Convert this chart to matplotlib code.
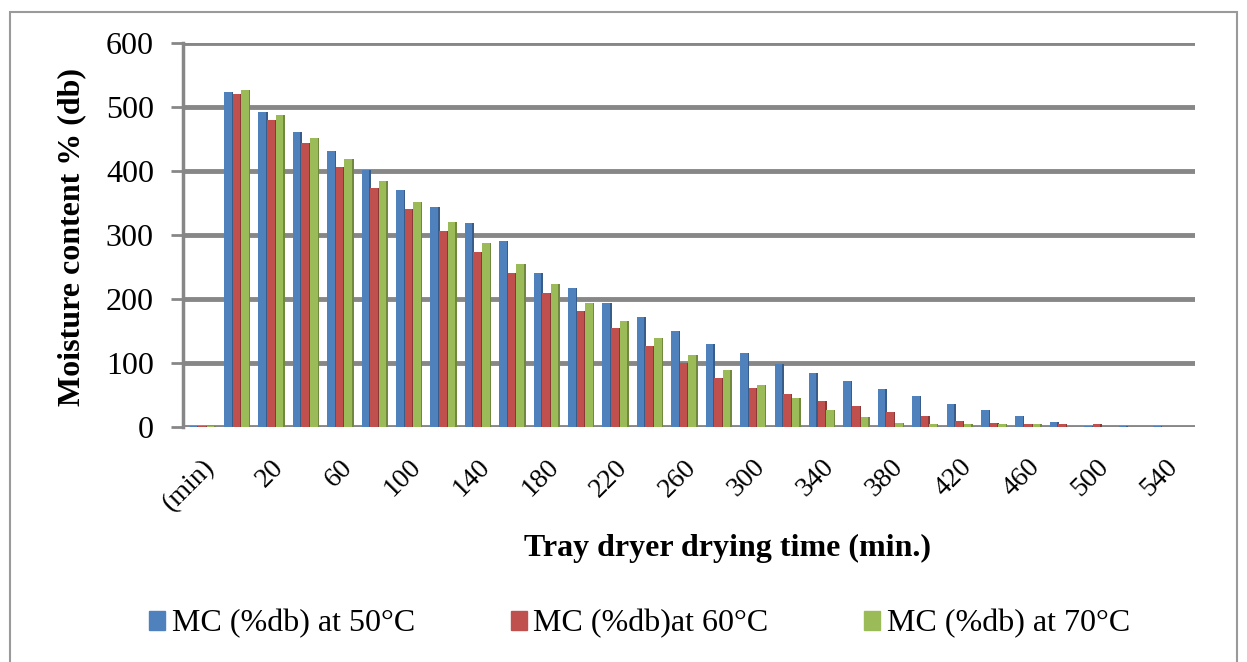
import matplotlib.pyplot as plt
import matplotlib.patches as mpatches
import numpy as np

plt.rcParams['font.family'] = ['Liberation Serif', 'DejaVu Serif']

# categories: "(min)" then 0..540 every 20 min
times = ['(min)'] + [str(t) for t in range(0, 541, 20)]
mc50 = [1, 523, 492, 461, 431, 401, 371, 344, 318, 291, 241, 217, 194, 172, 150,
        129, 115, 98, 85, 72, 60, 48, 36, 26, 17, 8, 2, 2, 1]
mc60 = [1, 521, 480, 443, 407, 373, 340, 307, 274, 241, 210, 182, 154, 127, 100,
        77, 61, 51, 41, 33, 24, 17, 9, 6, 5, 5, 4, 0, 0]
mc70 = [1, 526, 488, 452, 418, 385, 352, 320, 288, 255, 223, 194, 165, 139, 113,
        89, 65, 46, 26, 15, 7, 5, 4, 4, 4, 0, 0, 0, 0]
labels = ['MC (%db) at 50°C', 'MC (%db)at 60°C', 'MC (%db) at 70°C']
colors = ['#4F81BD', '#C0504D', '#9BBB59']
dark = ['#385D8A', '#8C3836', '#71893F']

fig = plt.figure(figsize=(12.47, 6.62), dpi=100)
ax = fig.add_axes([0.1468, 0.355, 0.8112, 0.58])

x = np.arange(len(times))
w = 0.22
offs = [-0.25, 0, 0.25]
for vals, off, c, d in zip([mc50, mc60, mc70], offs, colors, dark):
    # darker side face for a little 3D look
    ax.bar(x + off + w / 2 + 0.02, vals, width=0.05, color=d, zorder=2)
    ax.bar(x + off, vals, width=w, color=c, zorder=3)

ax.set_ylim(0, 600)
ax.set_xlim(-0.55, 28.85)
ax.set_yticks(range(0, 601, 100))
ax.yaxis.grid(True, color='#878787', linewidth=3.5, zorder=0)
ax.set_axisbelow(True)
for s in ['top', 'right', 'bottom']:
    ax.spines[s].set_visible(False)
ax.spines['left'].set_color('#878787')
ax.spines['left'].set_linewidth(2.5)
ax.tick_params(axis='y', length=9, width=2, color='#878787', labelsize=23, pad=12)

ax.set_xticks(x[::2])
ax.set_xticklabels(times[::2], rotation=45, ha='right', rotation_mode='anchor',
                   fontsize=20)
ax.tick_params(axis='x', length=0, pad=20)

fig.text(72 / 1247, 1 - 237 / 662, 'Moisture content % (db)', fontsize=23,
         fontweight='bold', rotation=90, ha='center', va='center')
fig.text(728 / 1247, 1 - 548 / 662, 'Tray dryer drying time (min.)', fontsize=23,
         fontweight='bold', ha='center', va='center')

handles = [mpatches.Patch(color=c) for c in colors]
fig.legend(handles, labels, loc='center', bbox_to_anchor=(0.513, 1 - 624 / 662),
           ncol=3, frameon=False, fontsize=23, handlelength=0.5, handleheight=0.55,
           handletextpad=0.2, columnspacing=3.0)

fig.patches.append(mpatches.Rectangle((10 / 1247, -0.01), 1227 / 1247, 1 - 12 / 662 + 0.01,
                                      transform=fig.transFigure, fill=False,
                                      edgecolor='#9A9A9A', linewidth=1.5))

fig.savefig('out.png', dpi=100)
